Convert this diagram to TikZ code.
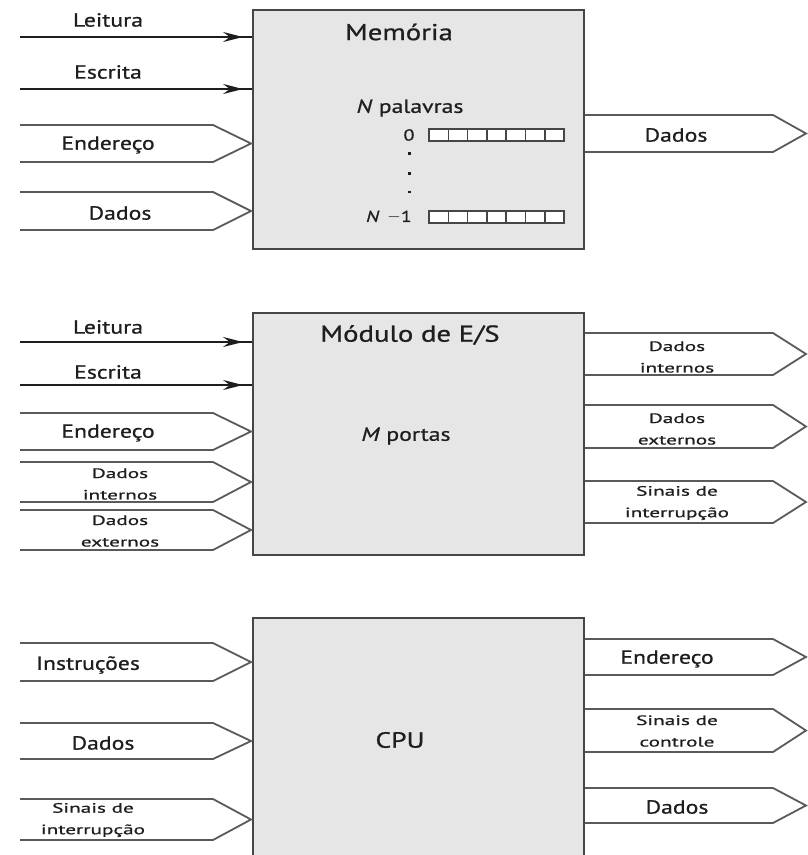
\documentclass[tikz,border=0pt]{standalone}
\usepackage{fontspec}
\usepackage{graphicx}
\setmainfont{PT Sans}[FakeStretch=1.25,FakeBold=0.8]
\usetikzlibrary{arrows.meta,calc}
\definecolor{boxfill}{HTML}{E6E6E6}
\definecolor{edge}{HTML}{464646}
\definecolor{busc}{HTML}{5A5A5A}
\definecolor{txt}{HTML}{1E1E1E}
\newcommand\sq[1]{\scalebox{1}[0.8]{#1}}
\tikzset{
  unit/.style={draw=edge, line width=2pt, fill=boxfill, minimum width=331pt, inner sep=0pt, anchor=north west},
  bus/.style={draw=busc, line width=1.8pt, line join=miter},
  sigline/.style={draw=txt, line width=1.4pt},
  sigarrow/.style={draw=txt, line width=1.4pt, -{Stealth[length=20pt,width=10pt,inset=7pt]}},
  lbl/.style={font=\fontsize{19}{21}\selectfont, text=txt, inner sep=0pt},
  slbl/.style={font=\fontsize{17}{21.5}\selectfont, text=txt, inner sep=0pt, align=center},
  ttl/.style={font=\fontsize{23}{25}\selectfont, text=txt, inner sep=0pt},
  cell/.style={draw=edge, line width=1.5pt, fill=white},
  dotm/.style={fill=txt},
}
\newcommand\busin[3]{\draw[bus] (20,#1) -- (213,#1) -- (#3) -- (213,#2) -- (20,#2);}
\begin{document}
\begin{tikzpicture}[x=1pt,y=-1pt]
\useasboundingbox (0,0) rectangle (808,855);

% ---------------- Memory ----------------
\node[unit, minimum height=239pt] (mem) at (252,9) {};
\node[ttl] (memt) at (399,32) {Memória};
\node[lbl] (npal) at (410,108) {\textit{N} palavras};
\node[lbl, font=\fontsize{16}{18}\selectfont] (w0) at (409,135) {0};
\node[lbl, font=\fontsize{16}{18}\selectfont, anchor=east] (wn) at (412,217) {\textit{N} \,$-$1};
\foreach \i in {0,...,6}{
  \draw[cell] ({429+\i*19.3},129) rectangle ({429+(\i+1)*19.3},141);
  \draw[cell] ({429+\i*19.3},211) rectangle ({429+(\i+1)*19.3},223);
}
\fill[dotm] (407.5,152) rectangle (410.5,154.5);
\fill[dotm] (407.5,171.5) rectangle (410.5,174.5);
\fill[dotm] (407.5,191) rectangle (410.5,193);

\coordinate (mLs) at (20,37);  \coordinate (mLe) at (252,37);  \coordinate (mLa) at (243,37);
\coordinate (mEs) at (20,89);  \coordinate (mEe) at (252,89);  \coordinate (mEa) at (243,89);
\draw[sigline] (mLs) -- (mLe); \draw[sigarrow] (mLs) -- (mLa);
\draw[sigline] (mEs) -- (mEe); \draw[sigarrow] (mEs) -- (mEa);
\node[lbl] (mLt) at (108,20) {Leitura};
\node[lbl] (mEt) at (108,72) {Escrita};
\coordinate (mAd) at (251,143.5);
\busin{125}{162}{mAd}
\node[lbl] (mAdt) at (108,145) {Endereço};
\coordinate (mDi) at (251,211);
\busin{192}{230}{mDi}
\node[lbl] (mDit) at (120,213) {Dados};
\coordinate (mDo) at (806,133.5);
\draw[bus] (mem.east |- 0,115) -- (773,115) -- (mDo) -- (773,152) -- (mem.east |- 0,152);
\node[lbl] (mDot) at (676,135) {Dados};

% ---------------- I/O module ----------------
\node[unit, minimum height=242pt] (io) at (252,312) {};
\node[ttl] (iot) at (410,335) {Módulo de E/S};
\node[lbl] (iop) at (406,436) {\textit{M} portas};

\coordinate (iLs) at (20,342);  \coordinate (iLe) at (252,342);  \coordinate (iLa) at (243,342);
\coordinate (iEs) at (20,385);  \coordinate (iEe) at (252,385);  \coordinate (iEa) at (243,385);
\draw[sigline, line width=1.8pt] (iLs) -- (iLe); \draw[sigarrow, line width=1.8pt] (iLs) -- (iLa);
\draw[sigline] (iEs) -- (iEe); \draw[sigarrow] (iEs) -- (iEa);
\node[lbl] (iLt) at (108,327) {Leitura};
\node[lbl] (iEt) at (108,372) {Escrita};
\coordinate (iAd) at (251,431.5);
\busin{413}{450}{iAd}
\node[lbl] (iAdt) at (108,433) {Endereço};
\coordinate (iDi) at (251,482);
\busin{462}{502}{iDi}
\node[slbl] (iDit) at (120,484) {\sq{Dados}\\\sq{internos}};
\coordinate (iDe) at (251,530);
\busin{510}{550}{iDe}
\node[slbl] (iDet) at (120,531) {\sq{Dados}\\\sq{externos}};

\coordinate (oDi) at (806,354);
\draw[bus] (io.east |- 0,333) -- (773,333) -- (oDi) -- (773,375) -- (io.east |- 0,375);
\node[slbl] (oDit) at (677,357) {\sq{Dados}\\\sq{internos}};
\coordinate (oDe) at (806,426.5);
\draw[bus] (io.east |- 0,405) -- (773,405) -- (oDe) -- (773,448) -- (io.east |- 0,448);
\node[slbl] (oDet) at (677,429) {\sq{Dados}\\\sq{externos}};
\coordinate (oSi) at (806,502);
\draw[bus] (io.east |- 0,481) -- (773,481) -- (oSi) -- (773,523) -- (io.east |- 0,523);
\node[slbl] (oSit) at (677,503) {\sq{Sinais de}\\\sq{interrupção}};

% ---------------- CPU ----------------
\node[unit, minimum height=260pt] (cpu) at (252,617) {};
\node[ttl, font=\fontsize{22}{24}\selectfont] (cput) at (400,740) {CPU};

\coordinate (cIn) at (251,662);
\busin{643}{681}{cIn}
\node[lbl] (cInt) at (88,665) {Instruções};
\coordinate (cDa) at (251,741);
\busin{723}{759}{cDa}
\node[lbl] (cDat) at (103,743) {Dados};
\coordinate (cSi) at (251,819.5);
\busin{799}{840}{cSi}
\node[slbl] (cSit) at (93,820) {\sq{Sinais de}\\\sq{interrupção}};

\coordinate (cAd) at (806,657);
\draw[bus] (cpu.east |- 0,639) -- (773,639) -- (cAd) -- (773,675) -- (cpu.east |- 0,675);
\node[lbl] (cAdt) at (667,659) {Endereço};
\coordinate (cCo) at (806,730.5);
\draw[bus] (cpu.east |- 0,709) -- (773,709) -- (cCo) -- (773,752) -- (cpu.east |- 0,752);
\node[slbl] (cCot) at (677,731) {\sq{Sinais de}\\\sq{controle}};
\coordinate (cDo) at (806,805.5);
\draw[bus] (cpu.east |- 0,788) -- (773,788) -- (cDo) -- (773,823) -- (cpu.east |- 0,823);
\node[lbl] (cDot) at (677,807) {Dados};
\end{tikzpicture}
\end{document}
